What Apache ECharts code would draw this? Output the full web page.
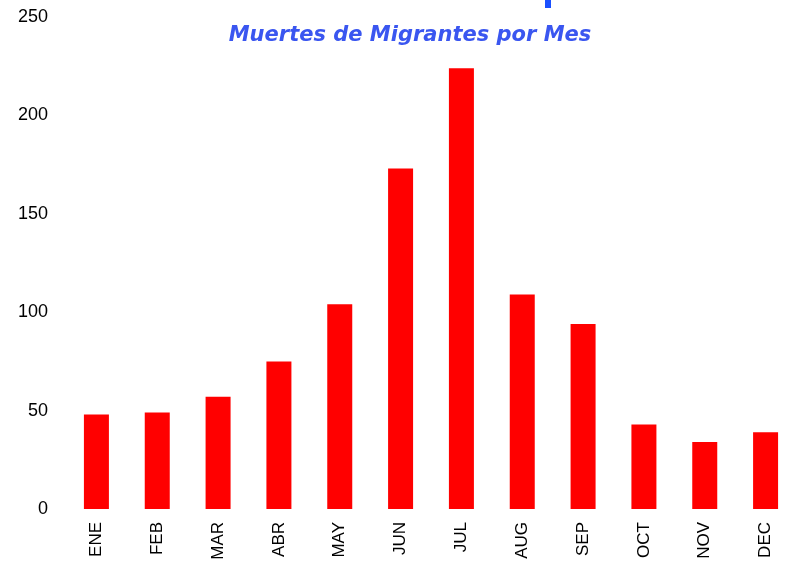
<!DOCTYPE html>
<html>
<head>
<meta charset="utf-8">
<script src="https://cdn.jsdelivr.net/npm/echarts@6/dist/echarts.min.js"></script>
<style>
html, body { margin: 0; padding: 0; background: #fff; }
#chart { width: 796px; height: 577px; }
</style>
</head>
<body>
<div id="chart"></div>
<script>
var months = ['ENE', 'FEB', 'MAR', 'ABR', 'MAY', 'JUN', 'JUL', 'AUG', 'SEP', 'OCT', 'NOV', 'DEC'];
var deaths = [48, 49, 57, 75, 104, 173, 224, 109, 94, 43, 34, 39];
var yTicks = [0, 50, 100, 150, 200, 250];

var chart = echarts.init(document.getElementById('chart'));
var option = {
	backgroundColor: '#fff',
	animation: false,
	title: {
		text: 'Muertes de Migrantes por Mes',
		left: 405,
		textAlign: 'center',
		top: 20,
		textStyle: {
			color: '#3a56f0',
			fontStyle: 'italic',
			fontWeight: 'bold',
			fontSize: 21,
			fontFamily: 'DejaVu Sans'
		}
	},
	graphic: [{
		type: 'rect',
		shape: { x: 545, y: 0, width: 6, height: 8 },
		style: { fill: '#1a50ff' }
	}],
	grid: {
		left: 66,
		top: 17,
		width: 736,
		bottom: 68
	},
	xAxis: {
		type: 'category',
		data: months,
		axisLine: { show: false },
		axisTick: { show: false },
		axisLabel: {
			rotate: 90,
			margin: 13,
			color: '#000',
			fontSize: 17,
			fontFamily: 'Liberation Sans'
		}
	},
	yAxis: {
		type: 'value',
		min: yTicks[0],
		max: yTicks[yTicks.length - 1],
		interval: 50,
		splitLine: { show: false },
		axisLine: { show: false },
		axisTick: { show: false },
		axisLabel: {
			margin: 18,
			color: '#000',
			fontSize: 18,
			fontFamily: 'Liberation Sans'
		}
	},
	series: [{
		type: 'bar',
		data: deaths,
		barWidth: 25,
		itemStyle: { color: '#ff0000' }
	}]
};
chart.setOption(option);
</script>
</body>
</html>
